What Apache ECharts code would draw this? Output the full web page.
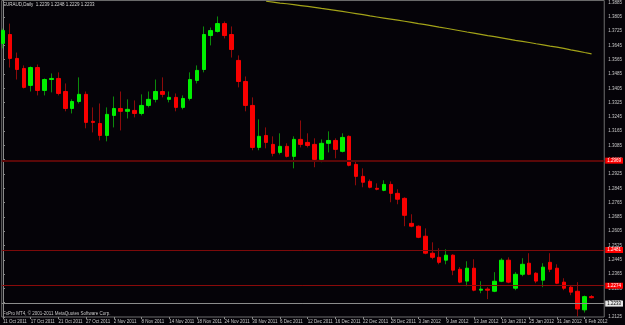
<!DOCTYPE html>
<html><head><meta charset="utf-8">
<script src="https://cdn.jsdelivr.net/npm/echarts@6/dist/echarts.min.js"></script>
<style>html,body{margin:0;padding:0;background:#050308;}#c{width:625px;height:325px;}</style>
</head><body><div id="c"></div>
<script>
const symbolName = 'EURAUD,Daily';
const footerText = 'FxPro MT4, \u00a9 2001-2011 MetaQuotes Software Corp.';
const opens = [1.3656,1.3706,1.3572,1.3516,1.3421,1.3521,1.3393,1.3454,1.3460,1.3387,
1.3292,1.3331,1.3371,1.3220,1.3208,1.3141,1.3253,1.3292,1.3276,1.3281,
1.3264,1.3309,1.3343,1.3387,1.3343,1.3354,1.3298,1.3348,1.3449,1.3510,
1.3700,1.3723,1.3767,1.3706,1.3561,1.3443,1.3309,1.3074,1.3141,1.3091,
1.3046,1.3080,1.3024,1.3119,1.3102,1.3091,1.3007,1.3097,1.3113,1.3052,
1.3136,1.2979,1.2912,1.2884,1.2845,1.2834,1.2867,1.2817,1.2789,1.2649,
1.2633,1.2577,1.2482,1.2459,1.2443,1.2471,1.2392,1.2326,1.2398,1.2275,
1.2281,1.2269,1.2325,1.2443,1.2286,1.2364,1.2426,1.2370,1.2331,1.2431,
1.2398,1.2320,1.2292,1.2269,1.2165,1.2239];
const highs = [1.3739,1.3767,1.3605,1.3533,1.3527,1.3538,1.3460,1.3488,1.3494,1.3432,
1.3343,1.3466,1.3387,1.3298,1.3320,1.3298,1.3359,1.3387,1.3343,1.3337,
1.3371,1.3387,1.3454,1.3466,1.3387,1.3376,1.3365,1.3494,1.3533,1.3751,
1.3745,1.3807,1.3779,1.3751,1.3589,1.3471,1.3354,1.3231,1.3186,1.3136,
1.3153,1.3097,1.3136,1.3225,1.3153,1.3125,1.3119,1.3164,1.3125,1.3153,
1.3141,1.2996,1.2957,1.2895,1.2873,1.2890,1.2884,1.2840,1.2795,1.2700,
1.2638,1.2621,1.2543,1.2510,1.2504,1.2476,1.2404,1.2437,1.2448,1.2325,
1.2292,1.2376,1.2454,1.2459,1.2376,1.2454,1.2482,1.2376,1.2426,1.2482,
1.2420,1.2342,1.2303,1.2320,1.2245,1.2248];
const lows = [1.3628,1.3521,1.3454,1.3404,1.3387,1.3365,1.3365,1.3382,1.3365,1.3276,
1.3264,1.3320,1.3181,1.3158,1.3113,1.3108,1.3186,1.3169,1.3236,1.3242,
1.3253,1.3298,1.3326,1.3354,1.3326,1.3276,1.3287,1.3337,1.3432,1.3494,
1.3645,1.3717,1.3684,1.3577,1.3410,1.3276,1.3058,1.3058,1.3069,1.3024,
1.3035,1.3018,1.2957,1.3074,1.3074,1.2963,1.2991,1.3046,1.3013,1.3046,
1.2968,1.2862,1.2851,1.2845,1.2834,1.2829,1.2767,1.2756,1.2633,1.2627,
1.2566,1.2476,1.2448,1.2420,1.2420,1.2359,1.2314,1.2297,1.2269,1.2258,
1.2225,1.2264,1.2320,1.2314,1.2275,1.2353,1.2359,1.2314,1.2292,1.2376,
1.2309,1.2275,1.2247,1.2128,1.2150,1.2229];
const closes = [1.3728,1.3572,1.3510,1.3410,1.3521,1.3393,1.3454,1.3460,1.3376,1.3292,
1.3331,1.3371,1.3214,1.3214,1.3141,1.3259,1.3292,1.3276,1.3287,1.3264,
1.3309,1.3343,1.3387,1.3371,1.3354,1.3298,1.3348,1.3454,1.3505,1.3706,
1.3728,1.3767,1.3700,1.3622,1.3443,1.3309,1.3074,1.3136,1.3102,1.3041,
1.3080,1.3024,1.3119,1.3091,1.3085,1.3007,1.3097,1.3113,1.3063,1.3130,
1.2974,1.2912,1.2879,1.2851,1.2840,1.2867,1.2817,1.2784,1.2694,1.2633,
1.2571,1.2482,1.2459,1.2431,1.2471,1.2387,1.2320,1.2398,1.2275,1.2281,
1.2275,1.2325,1.2443,1.2320,1.2364,1.2420,1.2364,1.2326,1.2404,1.2392,
1.2314,1.2286,1.2264,1.2170,1.2239,1.2233];
const maValues = [null,null,null,null,null,null,null,null,null,null,
null,null,null,null,null,null,null,null,null,null,
null,null,null,null,null,null,null,null,null,null,
null,null,null,null,null,null,null,null,1.3892,1.3887,
1.3882,1.3878,1.3873,1.3868,1.3863,1.3858,1.3852,1.3847,1.3841,1.3835,
1.3829,1.3823,1.3817,1.3810,1.3804,1.3798,1.3792,1.3786,1.3780,1.3774,
1.3767,1.3761,1.3754,1.3747,1.3741,1.3734,1.3727,1.3720,1.3714,1.3707,
1.3700,1.3694,1.3687,1.3680,1.3673,1.3667,1.3661,1.3654,1.3648,1.3641,
1.3635,1.3628,1.3620,1.3613,1.3605,1.3598];
const dateLabels = ['11 Oct 2011','17 Oct 2011','21 Oct 2011','27 Oct 2011','2 Nov 2011','8 Nov 2011',
'14 Nov 2011','18 Nov 2011','24 Nov 2011','30 Nov 2011','6 Dec 2011','12 Dec 2011','16 Dec 2011',
'22 Dec 2011','28 Dec 2011','3 Jan 2012','9 Jan 2012','13 Jan 2012','19 Jan 2012','25 Jan 2012',
'31 Jan 2012','6 Feb 2012'];
const labelBars = [0,4,8,12,16,20,24,28,32,36,40,44,48,52,56,60,64,68,72,76,80,84];
const yTicks = [1.3885,1.3805,1.3725,1.3645,1.3565,1.3485,1.3405,1.3325,1.3245,1.3165,1.3085,1.3005,
1.2925,1.2845,1.2765,1.2685,1.2605,1.2525,1.2445,1.2365,1.2285,1.2205,1.2125];
const levelLines = [1.2969, 1.2481, 1.2274];
const bidPrice = 1.2233;

const FONT = 'Liberation Sans';
const n = opens.length;
const wickData = [], bodyData = [], maData = [];
for (let i = 0; i < n; i++) {
  wickData.push([i, opens[i], closes[i], lows[i], highs[i]]);
  bodyData.push([i, opens[i], closes[i], Math.min(opens[i], closes[i]), Math.max(opens[i], closes[i])]);
  if (maValues[i] != null) maData.push([i, maValues[i]]);
}
const labelMap = {};
labelBars.forEach((b, k) => { labelMap[b] = dateLabels[k]; });

const levelStyles = [
  {color: '#5a0808', width: 2},
  {color: '#7c0a0a', width: 1},
  {color: '#8a0a0a', width: 1}
];

const chart = echarts.init(document.getElementById('c'), null, {renderer: 'canvas'});
chart.setOption({
  backgroundColor: '#050308',
  animation: false,
  grid: {left: 0, right: 18, top: 0, bottom: 8, show: true, borderColor: '#6e6e6e', borderWidth: 1, backgroundColor: 'transparent'},
  xAxis: {
    type: 'value', min: -0.186, max: 86.83,
    axisLine: {show: false},
    splitLine: {show: false},
    axisTick: {show: true, customValues: labelBars, length: 2, lineStyle: {color: '#8a8a8a'}},
    axisLabel: {customValues: labelBars, formatter: v => labelMap[Math.round(v)] || '', align: 'left', margin: 2,
      fontSize: 4.5, fontFamily: FONT, color: '#c8c8c8'}
  },
  yAxis: {
    type: 'value', position: 'right', min: 1.2125, max: 1.3896,
    axisLine: {show: true, lineStyle: {color: '#8a8a8a'}},
    splitLine: {show: false},
    axisTick: {show: true, customValues: yTicks, length: 2, lineStyle: {color: '#8a8a8a'}},
    axisLabel: {customValues: yTicks, formatter: v => v.toFixed(4), margin: 4, fontSize: 4.5, fontFamily: FONT, color: '#c8c8c8'}
  },
  series: [
    {
      type: 'line', data: maData, showSymbol: false, symbol: 'none', silent: true,
      lineStyle: {color: '#a3a318', width: 1.2}, z: 1
    },
    {
      type: 'candlestick', data: wickData, barWidth: 1, silent: true,
      itemStyle: {color: '#0b8a0b', color0: '#8e0a0a', borderColor: '#0b8a0b', borderColor0: '#8e0a0a', borderWidth: 1},
      z: 2
    },
    {
      type: 'candlestick', data: bodyData, barWidth: 4, silent: true,
      itemStyle: {color: '#00f000', color0: '#f80000', borderColor: '#00f000', borderColor0: '#f80000', borderWidth: 1},
      z: 3,
      markLine: {
        silent: true, symbol: ['none', 'none'], animation: false,
        data: levelLines.map((v, k) => ({
          yAxis: v,
          lineStyle: {color: levelStyles[k].color, width: levelStyles[k].width, type: 'solid'},
          label: {show: true, position: 'end', distance: 1, formatter: v.toFixed(4), color: '#ffffff',
            backgroundColor: '#ff0000', padding: [1, 2, 0, 2], fontSize: 4.5, fontFamily: FONT}
        })).concat([{
          yAxis: bidPrice,
          lineStyle: {color: '#8c8c8c', width: 1, type: 'solid'},
          label: {show: true, position: 'end', distance: 1, formatter: bidPrice.toFixed(4), color: '#000000',
            backgroundColor: '#e6e6e6', padding: [1, 2, 0, 2], fontSize: 4.5, fontFamily: FONT}
        }])
      }
    }
  ],
  graphic: [
    {type: 'text', left: 3, top: 2, silent: true,
      style: {text: symbolName + '  ' + [opens[n-1], highs[n-1], lows[n-1], closes[n-1]].map(v => v.toFixed(4)).join(' '),
        fill: '#d8d8d8', fontSize: 4.5, fontFamily: FONT}},
    {type: 'text', left: 3, top: 311, silent: true,
      style: {text: footerText, fill: '#c8c8c8', fontSize: 4.5, fontFamily: FONT}}
  ]
});
</script></body></html>
